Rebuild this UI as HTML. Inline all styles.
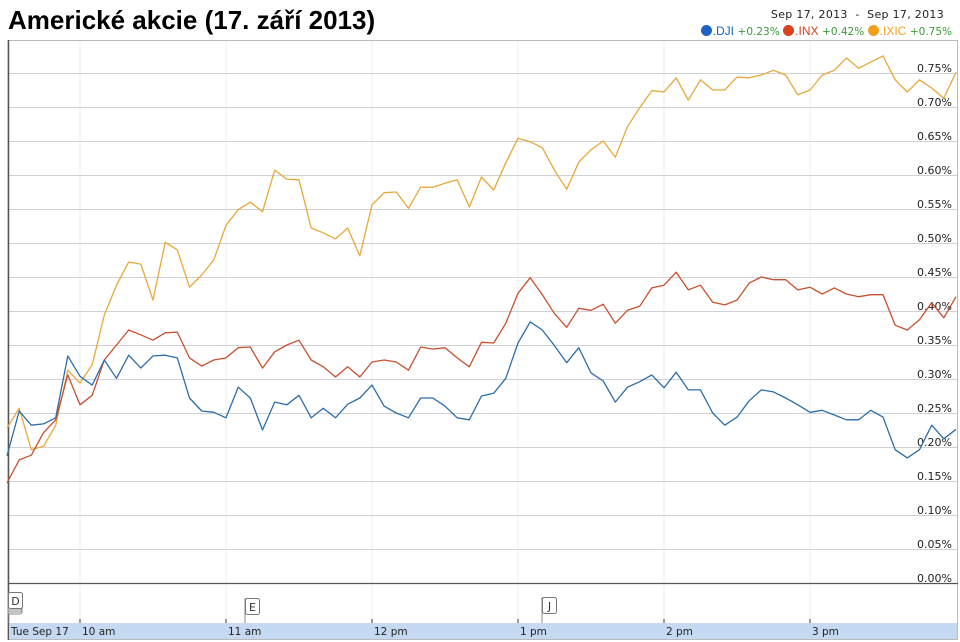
<!DOCTYPE html>
<html><head><meta charset="utf-8">
<style>
html,body{margin:0;padding:0;background:#fff;}
body{width:960px;height:642px;overflow:hidden;position:relative;font-family:"DejaVu Sans","Liberation Sans",sans-serif;}
#title{position:absolute;left:8px;top:5px;font:bold 26px "Liberation Sans",sans-serif;color:#000;letter-spacing:0px;}
#range{position:absolute;right:16px;top:8px;font-size:11px;color:#222;letter-spacing:0.3px;}
#legend{position:absolute;right:8px;top:24px;font-size:11px;white-space:nowrap;}
.nm{font-size:12px;font-family:"Liberation Sans",sans-serif;}
.pct{color:#3a9a3a;font-size:10.5px;}
.dot{display:inline-block;width:11px;height:11px;border-radius:50%;vertical-align:-1px;margin-right:1px;}
</style></head><body>
<div id="title">Americké akcie (17. září 2013)</div>
<div id="range">Sep 17, 2013 &nbsp;- &nbsp;Sep 17, 2013</div>
<div id="legend">
<span><span class="dot" style="background:#1a63c4"></span><span class="nm" style="color:#1a63c4">.DJI</span> <span class="pct">+0.23%</span></span>
<span><span class="dot" style="background:#d8421c"></span><span class="nm" style="color:#d8421c">.INX</span> <span class="pct">+0.42%</span></span>
<span><span class="dot" style="background:#f0a020"></span><span class="nm" style="color:#f0a020">.IXIC</span> <span class="pct">+0.75%</span></span>
</div>
<svg id="chart" width="960" height="642" style="position:absolute;left:0;top:0"></svg>
<script>
const yTicks=[0,0.05,0.10,0.15,0.20,0.25,0.30,0.35,0.40,0.45,0.50,0.55,0.60,0.65,0.70,0.75];
const hourLabels=["10 am","11 am","12 pm","1 pm","2 pm","3 pm"];
const hourValues=[10,11,12,13,14,15];
const dji=[.187,.253,.232,.234,.243,.334,.304,.291,.328,.301,.335,.316,.334,.335,.331,.272,.253,.251,.243,.288,.272,.225,.266,.262,.276,.243,.257,.243,.263,.272,.291,.260,.250,.243,.272,.272,.260,.243,.240,.275,.279,.301,.353,.384,.372,.349,.324,.346,.309,.297,.266,.288,.296,.306,.287,.310,.284,.284,.250,.232,.244,.268,.284,.281,.272,.262,.251,.254,.247,.240,.240,.254,.244,.196,.184,.196,.232,.212,.226];
const inx=[.147,.181,.188,.221,.240,.306,.262,.276,.328,.350,.372,.365,.357,.368,.369,.331,.319,.328,.331,.346,.347,.316,.340,.350,.357,.328,.318,.303,.318,.303,.325,.328,.325,.313,.347,.344,.346,.331,.318,.354,.353,.382,.426,.449,.424,.396,.376,.404,.401,.410,.382,.401,.407,.434,.438,.457,.431,.438,.413,.409,.416,.441,.450,.446,.446,.431,.435,.425,.434,.425,.421,.424,.424,.379,.372,.387,.412,.390,.421];
const ixic=[.228,.257,.196,.201,.232,.313,.294,.321,.394,.438,.472,.469,.416,.501,.490,.435,.453,.475,.526,.549,.560,.546,.607,.594,.593,.522,.515,.506,.522,.481,.556,.574,.575,.551,.582,.582,.588,.593,.553,.597,.578,.618,.654,.649,.640,.607,.579,.619,.637,.650,.626,.671,.699,.724,.722,.743,.710,.740,.725,.725,.744,.743,.747,.754,.747,.718,.725,.747,.754,.772,.757,.766,.775,.740,.722,.740,.728,.713,.751];

const NS="http://www.w3.org/2000/svg";
const svg=document.getElementById('chart');
const X0=7,PX_PER_HOUR=146,START=9.5,Y0=583,PX_PER_UNIT=680;
function xT(h){return X0+(h-START)*PX_PER_HOUR;}
function xI(i){return xT(START+i*5/60);}
function yV(v){return Y0-v*PX_PER_UNIT;}
function mk(tag,attrs){const e=document.createElementNS(NS,tag);for(const k in attrs)e.setAttribute(k,attrs[k]);svg.appendChild(e);return e;}

let e=mk('rect',{x:8,y:40.5,width:949.5,height:599,fill:'none',stroke:'#bbb','stroke-width':1});


hourValues.forEach((h,i)=>{
  const l=mk('line',{x1:xT(h),x2:xT(h),y1:41,y2:622,stroke:'#eee','stroke-width':1});
  
  
});
yTicks.forEach(v=>{
  if(v>0){const l=mk('line',{x1:8,x2:957,y1:yV(v)+0.5,y2:yV(v)+0.5,stroke:'#d0d0d8','stroke-width':1});
  
  }
  const t=mk('text',{x:952,y:yV(v)-1,'text-anchor':'end','font-size':11,fill:'#222','font-family':'DejaVu Sans, sans-serif'});
  t.textContent=v.toFixed(2)+'%';
  
  
});
e=mk('line',{x1:8,x2:958,y1:583.5,y2:583.5,stroke:'#555','stroke-width':1.2});


e=mk('line',{x1:8.5,x2:8.5,y1:40,y2:640,stroke:'#555','stroke-width':1.5});


e=mk('rect',{x:9,y:623,width:948,height:16,fill:'#c5daf2'});


e=mk('text',{x:11,y:635,'font-size':10.5,fill:'#222','font-family':'DejaVu Sans, sans-serif'});
e.textContent='Tue Sep 17';


hourValues.forEach((h,i)=>{
  const tk=mk('line',{x1:xT(h),x2:xT(h),y1:619,y2:623,stroke:'#333','stroke-width':1});
  
  
  const t=mk('text',{x:xT(h)+2,y:635,'font-size':10.5,fill:'#222','font-family':'DejaVu Sans, sans-serif'});
  t.textContent=hourLabels[i];
  
  
});
function flag(x,y,letter,name,stack){
  if(stack){for(let k=3;k>0;k--){mk('rect',{x:x,y:y+k*2,width:14,height:16,fill:'#fff',stroke:'#888','stroke-width':1,rx:2});}}
  mk('line',{x1:x,x2:x,y1:y,y2:623,stroke:'#888','stroke-width':1});
  const r=mk('rect',{x:x+0.5,y:y+0.5,width:14,height:16,fill:'#fff',stroke:'#777','stroke-width':1,rx:2});
  
  
  const t=mk('text',{x:x+7.5,y:y+13,'text-anchor':'middle','font-size':11,fill:'#333','font-family':'DejaVu Sans, sans-serif'});
  t.textContent=letter;
}
flag(8,592,'D','news-flag-d',true);
flag(245,598,'E','news-flag-e',false);
flag(542,597,'J','news-flag-j',false);
function series(arr,color,name){
  const p=mk('polyline',{points:arr.map((v,i)=>xI(i).toFixed(1)+','+yV(v).toFixed(1)).join(' '),fill:'none',stroke:color,'stroke-width':1.3,'stroke-linejoin':'round'});
  
  
}
series(ixic,'#e8a83a','series-ixic');
series(inx,'#c8502e','series-inx');
series(dji,'#2e6da8','series-dji');
</script>
</body></html>
